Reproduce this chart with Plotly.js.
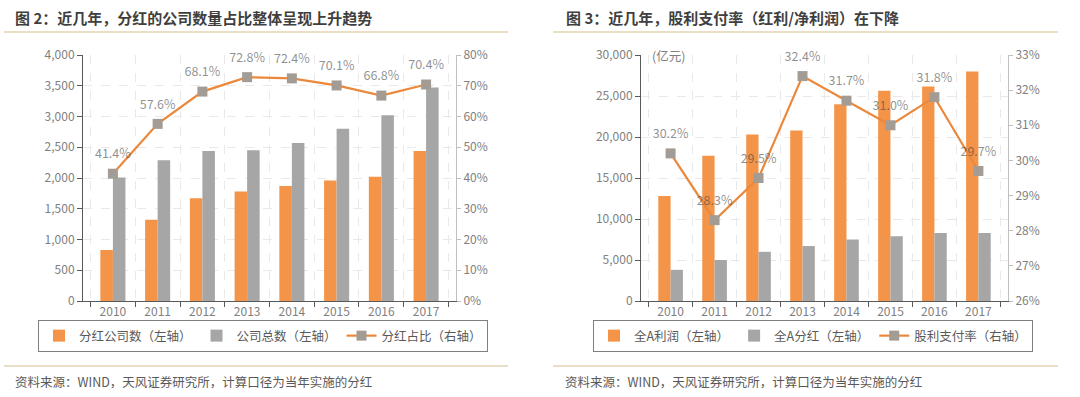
<!DOCTYPE html>
<html><head><meta charset="utf-8">
<script src="https://cdn.plot.ly/plotly-3.0.1.min.js"></script>
<style>html,body{margin:0;padding:0;background:#fff;}#chart{width:1080px;height:397px;}</style>
</head><body><div id="chart"></div>
<script>
const years = ['2010','2011','2012','2013','2014','2015','2016','2017'];
// 图2
const divCompanies   = [830, 1320, 1670, 1780, 1870, 1960, 2020, 2440];
const totalCompanies = [2010, 2290, 2440, 2450, 2570, 2800, 3020, 3470];
const divRatio       = [41.4, 57.6, 68.1, 72.8, 72.4, 70.1, 66.8, 70.4];
// 图3
const profitA        = [12800, 17700, 20300, 20800, 24000, 25650, 26150, 28000];
const dividendA      = [3800, 5000, 6000, 6700, 7500, 7900, 8300, 8300];
const payoutRatio    = [30.2, 28.3, 29.5, 32.4, 31.7, 31.0, 31.8, 29.7];

const ORANGE = '#F39449', GRAY = '#A6A6A6', LINE = '#EB883B', MARK = '#A39C95';
const FONT = '"Noto Sans CJK SC", "Noto Sans", sans-serif';
const TICKC = '#808080';
const labelFont = {family: FONT, size: 12.5, color: 'rgba(70,70,70,0.6)'};
const W = 1080, H = 397;
const px = v => v / W, py = v => 1 - v / H;

const traces = [
  {type:'bar', x:years, y:divCompanies, name:'分红公司数（左轴）', marker:{color:ORANGE}, xaxis:'x', yaxis:'y', legend:'legend'},
  {type:'bar', x:years, y:totalCompanies, name:'公司总数（左轴）', marker:{color:GRAY}, xaxis:'x', yaxis:'y', legend:'legend'},
  {type:'scatter', mode:'lines+markers', x:years, y:divRatio, name:'分红占比（右轴）', line:{color:LINE, width:2.2},
   marker:{symbol:'square', size:10, color:MARK}, xaxis:'x', yaxis:'y2', legend:'legend', cliponaxis:false},
  {type:'scatter', mode:'markers+text', x:years, y:divRatio, text:divRatio.map(v=>v.toFixed(1)+'%'), textposition:'top center',
   marker:{size:18, opacity:0}, textfont:labelFont, showlegend:false, xaxis:'x', yaxis:'y2', cliponaxis:false, hoverinfo:'skip'},
  {type:'bar', x:years, y:profitA, name:'全A利润（左轴）', marker:{color:ORANGE}, xaxis:'x2', yaxis:'y3', legend:'legend2'},
  {type:'bar', x:years, y:dividendA, name:'全A分红（左轴）', marker:{color:GRAY}, xaxis:'x2', yaxis:'y3', legend:'legend2'},
  {type:'scatter', mode:'lines+markers', x:years, y:payoutRatio, name:'股利支付率（右轴）', line:{color:LINE, width:2.2},
   marker:{symbol:'square', size:10, color:MARK}, xaxis:'x2', yaxis:'y4', legend:'legend2', cliponaxis:false},
  {type:'scatter', mode:'markers+text', x:years, y:payoutRatio, text:payoutRatio.map(v=>v.toFixed(1)+'%'), textposition:'top center',
   marker:{size:18, opacity:0}, textfont:labelFont, showlegend:false, xaxis:'x2', yaxis:'y4', cliponaxis:false, hoverinfo:'skip'}
];

const xCommon = {type:'category', tickson:'boundaries', ticks:'outside', ticklen:5, tickcolor:'#595959',
  showline:true, linecolor:'#595959', linewidth:1, showgrid:true, gridcolor:'#e9e9e9', griddash:'dash',
  tickfont:{family:FONT, size:12, color:TICKC}, fixedrange:true};
const yLeft = {ticks:'outside', ticklen:5, tickcolor:'#595959', showline:true, linecolor:'#595959', linewidth:1,
  showgrid:true, gridcolor:'#e9e9e9', griddash:'dash', zeroline:false, tickformat:',',
  tickfont:{family:FONT, size:12, color:TICKC}};
const yRight = {side:'right', ticks:'outside', ticklen:4, tickcolor:'#bfbfbf', showline:true, linecolor:'#bfbfbf',
  linewidth:1, showgrid:false, zeroline:false, ticksuffix:'%', tickfont:{family:FONT, size:12, color:TICKC}};
const yDom = [py(301), py(55)];

const legendCommon = {orientation:'h', bordercolor:'#7f7f7f', borderwidth:1, bgcolor:'#fff',
  font:{family:FONT, size:12.5, color:'#595959'}, xanchor:'center', yanchor:'middle', itemwidth:30, traceorder:'normal'};

const layout = {
  width:W, height:H, margin:{l:0, r:0, t:0, b:0}, paper_bgcolor:'#fff', plot_bgcolor:'#fff',
  barmode:'group', bargap:0.44, bargroupgap:0, font:{family:FONT},
  xaxis: Object.assign({}, xCommon, {domain:[px(83), px(456)], anchor:'y'}),
  yaxis: Object.assign({}, yLeft, {domain:yDom, range:[0,4000], dtick:500, anchor:'x'}),
  yaxis2: Object.assign({}, yRight, {overlaying:'y', anchor:'x', range:[0,80], dtick:10}),
  xaxis2: Object.assign({}, xCommon, {domain:[px(641), px(1008)], anchor:'y3'}),
  yaxis3: Object.assign({}, yLeft, {domain:yDom, range:[0,30000], dtick:5000, anchor:'x2'}),
  yaxis4: Object.assign({}, yRight, {overlaying:'y3', anchor:'x2', range:[26,33], dtick:1}),
  legend: Object.assign({}, legendCommon, {x:px(263), y:py(336)}),
  legend2: Object.assign({}, legendCommon, {x:px(813), y:py(336)}),
  showlegend:true,
  shapes:[
    {type:'line', xref:'paper', yref:'paper', x0:px(4), x1:px(508), y0:py(32), y1:py(32), line:{color:'#e3d3b3', width:1.5}},
    {type:'line', xref:'paper', yref:'paper', x0:px(553), x1:px(1058), y0:py(32), y1:py(32), line:{color:'#e3d3b3', width:1.5}},
    {type:'line', xref:'paper', yref:'paper', x0:px(4), x1:px(508), y0:py(366), y1:py(366), line:{color:'#e3d3b3', width:1.5}},
    {type:'line', xref:'paper', yref:'paper', x0:px(553), x1:px(1058), y0:py(366), y1:py(366), line:{color:'#e3d3b3', width:1.5}}
  ],
  annotations:[
    {xref:'paper', yref:'paper', x:px(13), y:py(18), xanchor:'left', yanchor:'middle', showarrow:false,
     text:'<b>图 2：近几年，分红的公司数量占比整体呈现上升趋势</b>', font:{family:FONT, size:15, color:'#3f3f3f'}},
    {xref:'paper', yref:'paper', x:px(564), y:py(18), xanchor:'left', yanchor:'middle', showarrow:false,
     text:'<b>图 3：近几年，股利支付率（红利/净利润）在下降</b>', font:{family:FONT, size:15, color:'#3f3f3f'}},
    {xref:'paper', yref:'paper', x:px(13), y:py(381), xanchor:'left', yanchor:'middle', showarrow:false,
     text:'资料来源：WIND，天风证券研究所，计算口径为当年实施的分红', font:{family:FONT, size:12.5, color:'#595959'}},
    {xref:'paper', yref:'paper', x:px(563), y:py(381), xanchor:'left', yanchor:'middle', showarrow:false,
     text:'资料来源：WIND，天风证券研究所，计算口径为当年实施的分红', font:{family:FONT, size:12.5, color:'#595959'}},
    {xref:'paper', yref:'paper', x:px(650), y:py(56), xanchor:'left', yanchor:'middle', showarrow:false,
     text:'(亿元)', font:{family:FONT, size:12.5, color:TICKC}}
  ]
};

Plotly.newPlot('chart', traces, layout, {staticPlot:true, displayModeBar:false});
</script>
</body></html>
